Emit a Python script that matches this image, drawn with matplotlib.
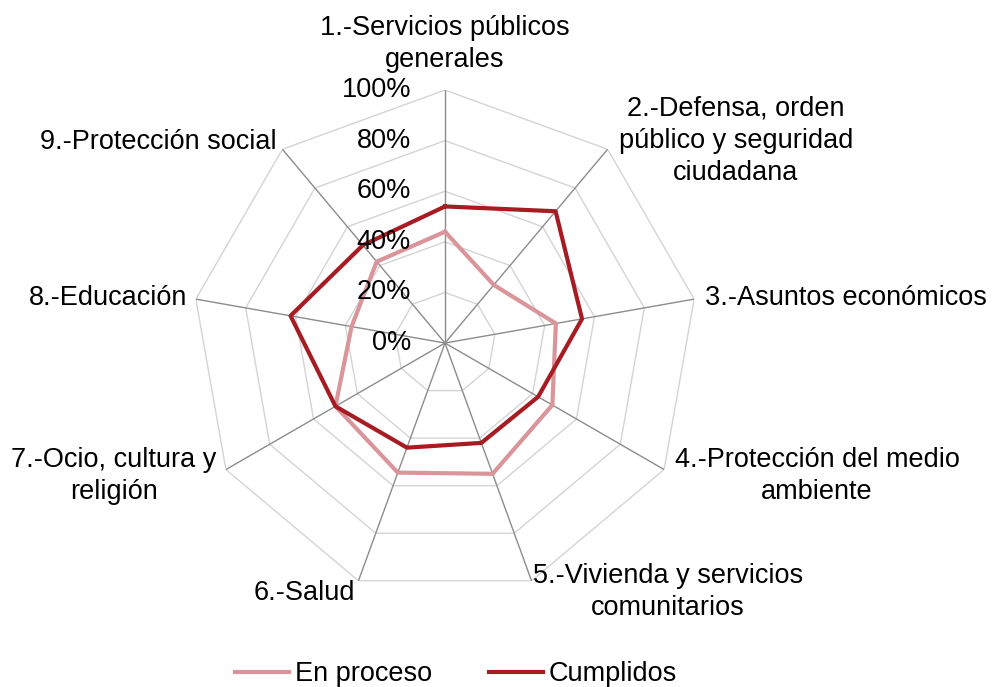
import numpy as np
import matplotlib.pyplot as plt

plt.rcParams["font.family"] = ["Liberation Sans", "DejaVu Sans"]

categories = [
    "1.-Servicios públicos\ngenerales",
    "2.-Defensa, orden\npúblico y seguridad\nciudadana",
    "3.-Asuntos económicos",
    "4.-Protección del medio\nambiente",
    "5.-Vivienda y servicios\ncomunitarios",
    "6.-Salud",
    "7.-Ocio, cultura y\nreligión",
    "8.-Educación",
    "9.-Protección social",
]
en_proceso = [0.44, 0.30, 0.445, 0.49, 0.55, 0.545, 0.50, 0.375, 0.42]
cumplidos = [0.54, 0.68, 0.55, 0.425, 0.42, 0.44, 0.50, 0.62, 0.505]
r_ticks = [0.0, 0.2, 0.4, 0.6, 0.8, 1.0]
r_labels = ["0%", "20%", "40%", "60%", "80%", "100%"]

# label placement in figure fraction (x, y, ha)
label_pos = [
    (0.445, 0.936, "center"),
    (0.736, 0.795, "center"),
    (0.705, 0.566, "left"),
    (0.817, 0.307, "center"),
    (0.668, 0.138, "center"),
    (0.355, 0.137, "right"),
    (0.114, 0.307, "center"),
    (0.187, 0.566, "right"),
    (0.277, 0.793, "right"),
]

c_proc = "#D9959A"
c_cump = "#A61C22"
fs = 19.5

n = len(categories)
theta = np.linspace(0, 2 * np.pi, n, endpoint=False)
theta_c = np.append(theta, theta[0])

fig = plt.figure(figsize=(10, 6.87), dpi=100)
ax = fig.add_axes([0.445 - 0.253, 0.5007 - 0.3683, 0.506, 0.7365], projection="polar")
ax.set_theta_zero_location("N")
ax.set_theta_direction(-1)
ax.set_ylim(0, 1)
ax.grid(False)
ax.spines["polar"].set_visible(False)
ax.set_xticks([])
ax.set_yticks([])
ax.patch.set_alpha(0)

# polygon grid
for r in r_ticks[1:]:
    ax.plot(theta_c, [r] * (n + 1), color="#D4D4D4", lw=1, zorder=1)
for t in theta:
    ax.plot([t, t], [0, 1], color="#8C8C8C", lw=1, zorder=1)

ax.plot(theta_c, en_proceso + en_proceso[:1], color=c_proc, lw=3, label="En proceso", zorder=3)
ax.plot(theta_c, cumplidos + cumplidos[:1], color=c_cump, lw=3, label="Cumplidos", zorder=4)

for r, lab in zip(r_ticks, r_labels):
    ax.annotate(lab, (0, r), xytext=(-34, 0), textcoords="offset pixels",
                ha="right", va="center", fontsize=fs, zorder=5)

for lab, (x, y, ha) in zip(categories, label_pos):
    fig.text(x, y, lab, ha=ha, va="center", fontsize=fs, linespacing=1.33, multialignment="center")

fig.legend(loc="lower center", bbox_to_anchor=(0.456, -0.036), ncol=2, frameon=False,
           fontsize=fs, handlelength=2.0, handletextpad=0.2, columnspacing=2.1)

fig.savefig("out.png", dpi=100)
